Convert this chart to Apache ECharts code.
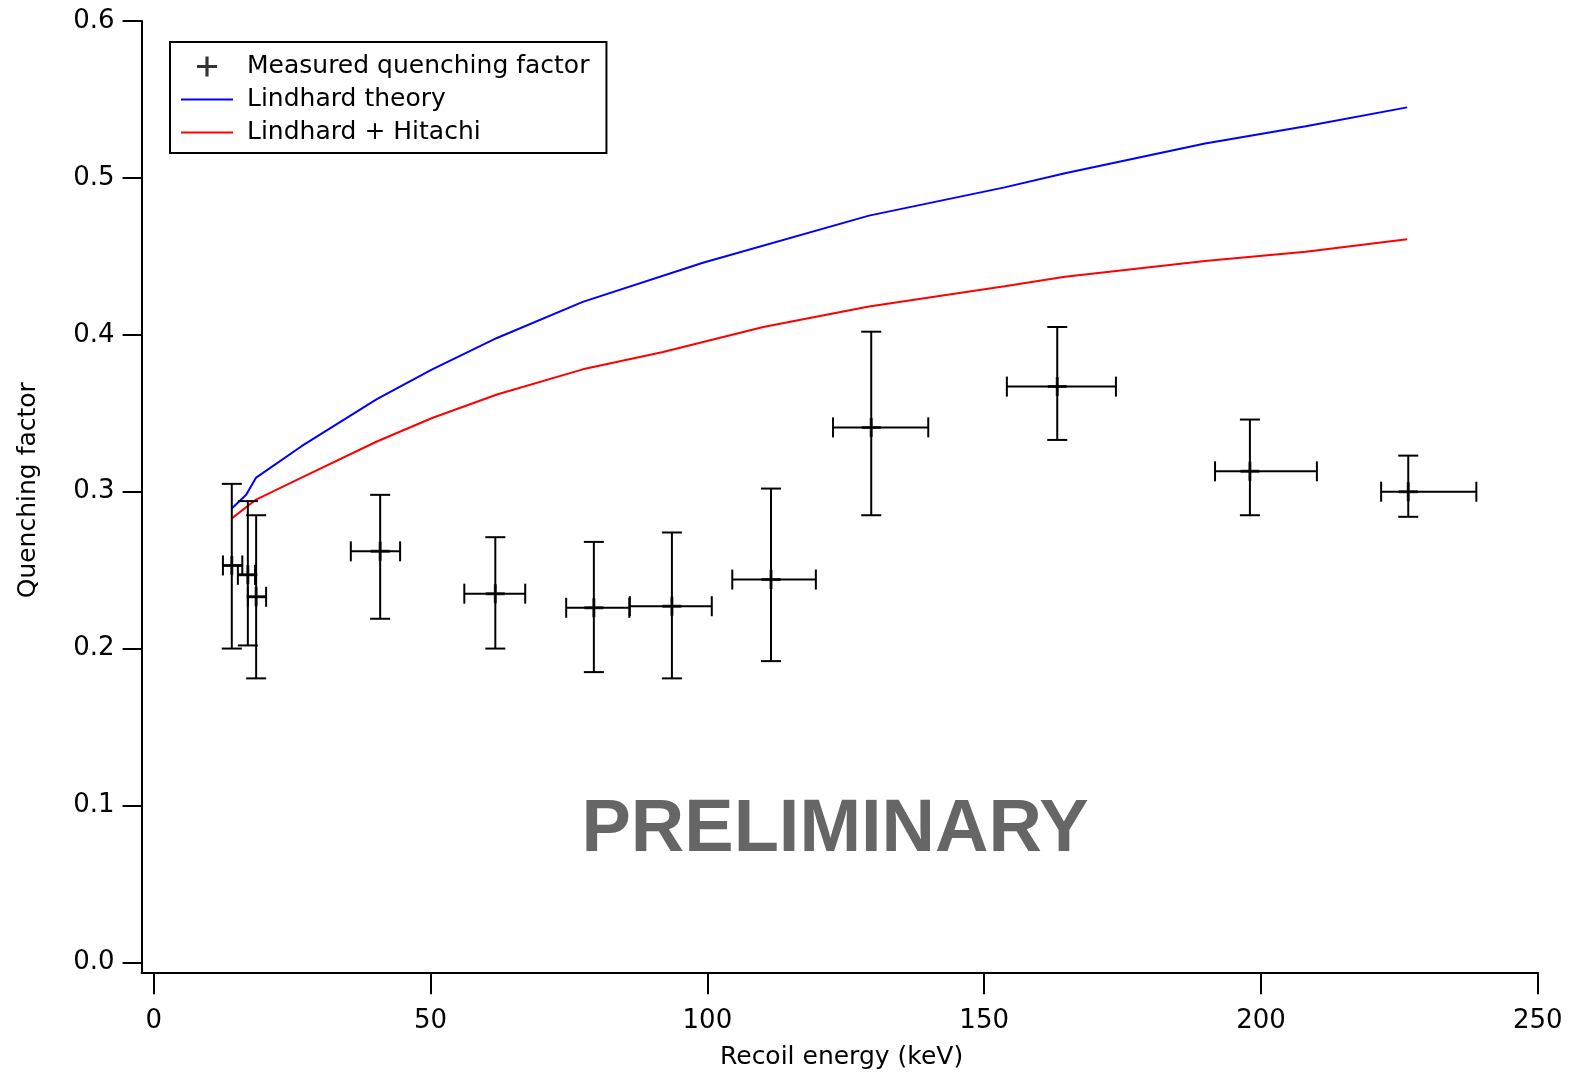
<!DOCTYPE html>
<html><head><meta charset="utf-8">
<script src="https://cdn.jsdelivr.net/npm/echarts@6/dist/echarts.min.js"></script>
<style>html,body{margin:0;padding:0;background:#fff;overflow:hidden}#c{width:1575px;height:1076px}</style>
</head><body><div id="c"></div>
<script>
// Measured quenching factor (with error bounds)
const energy    = [14.1, 17.0, 18.5, 40.9, 61.7, 79.5, 93.6, 111.5, 129.6, 163.2, 198.0, 226.6];
const energyLo  = [12.5, 15.2, 17.0, 35.6, 56.1, 74.5, 86.0, 104.5, 122.7, 154.1, 191.7, 221.7];
const energyHi  = [16.0, 18.3, 20.3, 44.5, 67.1, 85.9, 100.8, 119.6, 139.9, 173.8, 210.1, 238.9];
const qf        = [0.253, 0.247, 0.233, 0.262, 0.235, 0.226, 0.227, 0.244, 0.341, 0.367, 0.313, 0.300];
const qfLo      = [0.200, 0.202, 0.181, 0.219, 0.200, 0.185, 0.181, 0.192, 0.285, 0.333, 0.285, 0.284];
const qfHi      = [0.305, 0.294, 0.285, 0.298, 0.271, 0.268, 0.274, 0.302, 0.402, 0.405, 0.346, 0.323];

// Lindhard theory curve
const lindE   = [14.0, 16.7, 18.5, 26.7, 40.3, 50.3, 62.0, 77.5, 99.2, 129.2, 153.7, 164.6, 189.9, 208.1, 226.4];
const lindQ   = [0.289, 0.298, 0.309, 0.329, 0.359, 0.378, 0.398, 0.421, 0.446, 0.476, 0.494, 0.503, 0.522, 0.533, 0.545];
// Lindhard + Hitachi curve
const hitE    = [14.1, 18.5, 26.7, 40.3, 50.3, 62.0, 77.5, 92.0, 110.1, 129.2, 153.7, 164.6, 189.9, 208.1, 226.4];
const hitQ    = [0.283, 0.295, 0.309, 0.332, 0.347, 0.362, 0.378, 0.389, 0.405, 0.418, 0.431, 0.437, 0.447, 0.453, 0.461];

const xTicks = [0, 50, 100, 150, 200, 250];
const yTicks = [0.0, 0.1, 0.2, 0.3, 0.4, 0.5, 0.6];

const FONT = 'DejaVu Sans';
const chart = echarts.init(document.getElementById('c'), null, {renderer: 'canvas', width: 1575, height: 1076});

const errData = energy.map((e, i) => [e, qf[i], energyLo[i], energyHi[i], qfLo[i], qfHi[i]]);
const ptData = energy.map((e, i) => [e, qf[i]]);
const lindData = lindE.map((e, i) => [e, lindQ[i]]);
const hitData = hitE.map((e, i) => [e, hitQ[i]]);

const PLUS = 'path://M8,0h3v8h8v3h-8v8h-3v-8h-8v-3h8z';

function lineEl(x1, y1, x2, y2) {
  return {type: 'line', shape: {x1, y1, x2, y2}, style: {stroke: '#000', lineWidth: 2}};
}

const option = {
  backgroundColor: '#fff',
  animation: false,
  grid: {left: 141.6, top: 21.1, width: 1396.2, height: 951.2, containLabel: false, outerBoundsMode: 'none'},
  xAxis: {
    type: 'value', min: -2.19, max: 250,
    axisLine: {onZero: false, lineStyle: {color: '#000', width: 2}},
    axisTick: {show: true, length: 22, lineStyle: {color: '#000', width: 2}, customValues: xTicks},
    axisLabel: {customValues: xTicks, margin: 36, color: '#000', fontFamily: FONT, fontSize: 26},
    splitLine: {show: false}
  },
  yAxis: {
    type: 'value', min: -0.00637, max: 0.6,
    axisLine: {onZero: false, lineStyle: {color: '#000', width: 2}},
    axisTick: {show: true, length: 19, lineStyle: {color: '#000', width: 2}, customValues: yTicks},
    axisLabel: {customValues: yTicks, margin: 27, color: '#000', fontFamily: FONT, fontSize: 26,
      formatter: v => v.toFixed(1)},
    splitLine: {show: false},
    name: 'Quenching factor', nameLocation: 'middle', nameGap: 101,
    nameTextStyle: {color: '#000', fontFamily: FONT, fontSize: 25, padding: [0, 0, 0, 13]}
  },
  legend: {
    orient: 'vertical', left: 170, top: 42,
    padding: [12, 17, 8, 11],
    borderColor: '#000', borderWidth: 2, backgroundColor: '#fff',
    itemWidth: 52, itemHeight: 20, itemGap: 8,
    textStyle: {color: '#000', fontFamily: FONT, fontSize: 25, padding: [0, 0, 0, 9]},
    data: [
      {name: 'Measured quenching factor', icon: PLUS},
      {name: 'Lindhard theory', icon: 'path://M0,0h52v2h-52z'},
      {name: 'Lindhard + Hitachi', icon: 'path://M0,0h52v2h-52z'}
    ]
  },
  graphic: [{
    type: 'text', x: 835, y: 831,
    style: {text: 'PRELIMINARY', fill: '#666666', fontFamily: '"Liberation Sans", Arial, sans-serif',
      fontSize: 74, fontWeight: 'bold', align: 'center', verticalAlign: 'middle'},
    z: 100
  }, {
    type: 'text', left: 720, top: 1045,
    style: {text: 'Recoil energy (keV)', fill: '#000', fontFamily: FONT, fontSize: 25},
    z: 100
  }],
  series: [
    {name: 'Measured quenching factor', type: 'scatter', data: ptData, symbol: PLUS, symbolSize: 19,
      itemStyle: {color: '#000'}, z: 5},
    {name: 'errorbars', type: 'custom', data: errData, z: 4,
      renderItem: function (params, api) {
        const c = api.coord([api.value(0), api.value(1)]);
        const xl = api.coord([api.value(2), api.value(1)])[0];
        const xh = api.coord([api.value(3), api.value(1)])[0];
        const yl = api.coord([api.value(0), api.value(4)])[1];
        const yh = api.coord([api.value(0), api.value(5)])[1];
        const cap = 10;
        return {type: 'group', children: [
          lineEl(xl, c[1], xh, c[1]),
          lineEl(xl, c[1] - cap, xl, c[1] + cap),
          lineEl(xh, c[1] - cap, xh, c[1] + cap),
          lineEl(c[0], yl, c[0], yh),
          lineEl(c[0] - cap, yl, c[0] + cap, yl),
          lineEl(c[0] - cap, yh, c[0] + cap, yh)
        ]};
      }
    },
    {name: 'Lindhard theory', type: 'line', data: lindData, symbol: 'none', smooth: false,
      lineStyle: {color: '#0000ff', width: 2}, itemStyle: {color: '#0000ff'}, z: 3},
    {name: 'Lindhard + Hitachi', type: 'line', data: hitData, symbol: 'none', smooth: false,
      lineStyle: {color: '#ff0000', width: 2}, itemStyle: {color: '#ff0000'}, z: 3}
  ]
};
chart.setOption(option);
</script>
</body></html>
